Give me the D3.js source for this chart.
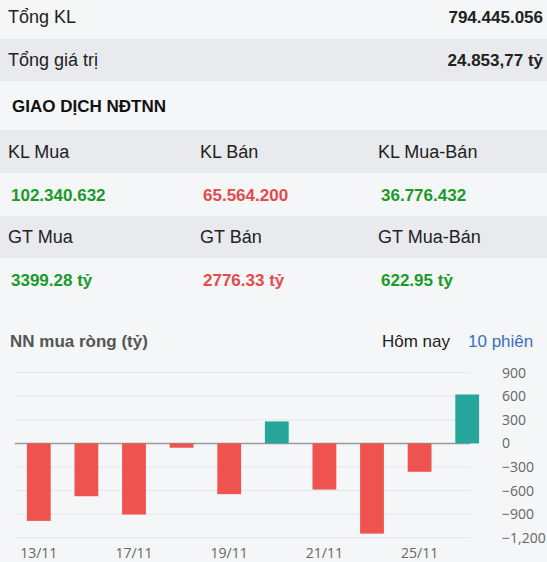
<!DOCTYPE html>
<html><head><meta charset="utf-8">
<script src="https://cdn.jsdelivr.net/npm/d3@7"></script>
<style>body{margin:0;background:#f5f6f8;}svg{display:block;font-family:"Liberation Sans",Arial,sans-serif;}</style>
</head><body><svg id="c" width="547" height="562"></svg>
<script>
const dates = ["13/11","14/11","17/11","18/11","19/11","20/11","21/11","24/11","25/11","26/11"];
const netValues = [-986,-672,-905,-55,-646,280,-587,-1148,-361,622.95];
const yTicks = [900,600,300,0,-300,-600,-900,-1200];
const shownDates = ["13/11","17/11","19/11","21/11","25/11"];

const svg = d3.select("#c");
svg.append("rect").attr("width",547).attr("height",562).attr("fill","#f5f6f8");
svg.append("rect").attr("y",39).attr("width",547).attr("height",42).attr("fill","#e8eaee");
svg.append("text").attr("x",8).attr("y",23).attr("font-size",18).attr("fill","#222").text("Tổng KL");
svg.append("text").attr("x",543).attr("y",23).attr("text-anchor","end").attr("font-size",17).attr("font-weight","bold").attr("fill","#222").text("794.445.056");
svg.append("text").attr("x",8).attr("y",66).attr("font-size",18).attr("fill","#222").text("Tổng giá trị");
svg.append("text").attr("x",543).attr("y",66).attr("text-anchor","end").attr("font-size",17).attr("font-weight","bold").attr("fill","#222").text("24.853,77 tỷ");
svg.append("text").attr("x",12).attr("y",112).attr("font-size",17).attr("font-weight","bold").attr("fill","#111").text("GIAO DỊCH NĐTNN");
svg.append("line").attr("x1",0).attr("x2",547).attr("y1",131).attr("y2",131).attr("stroke","#d5d8dd");
svg.append("rect").attr("y",131).attr("width",547).attr("height",42).attr("fill","#e8eaee");
svg.append("rect").attr("y",216).attr("width",547).attr("height",42).attr("fill","#e8eaee");
const cols=[8,200,378];
const hdr1=["KL Mua","KL Bán","KL Mua-Bán"], hdr2=["GT Mua","GT Bán","GT Mua-Bán"];
const val1=["102.340.632","65.564.200","36.776.432"], val2=["3399.28 tỷ","2776.33 tỷ","622.95 tỷ"];
const vcol=["#1a9a2a","#e24b4b","#1a9a2a"];
hdr1.forEach((t,i)=>svg.append("text").attr("x",cols[i]).attr("y",158).attr("font-size",18).attr("fill","#222").text(t));
hdr2.forEach((t,i)=>svg.append("text").attr("x",cols[i]).attr("y",243).attr("font-size",18).attr("fill","#222").text(t));
val1.forEach((t,i)=>svg.append("text").attr("x",cols[i]+3).attr("y",201).attr("font-size",17).attr("font-weight","bold").attr("fill",vcol[i]).text(t));
val2.forEach((t,i)=>svg.append("text").attr("x",cols[i]+3).attr("y",286).attr("font-size",17).attr("font-weight","bold").attr("fill",vcol[i]).text(t));
svg.append("text").attr("x",10).attr("y",347).attr("font-size",17).attr("font-weight","bold").attr("fill","#555").text("NN mua ròng (tỷ)");
svg.append("text").attr("x",382).attr("y",347).attr("font-size",17).attr("fill","#222").text("Hôm nay");
svg.append("text").attr("x",468).attr("y",347).attr("font-size",17).attr("fill","#3a6fc4").text("10 phiên");

const x = d3.scaleBand().domain(dates).range([15,491]).paddingInner(0.5).paddingOuter(0.25);
const y = d3.scaleLinear().domain([-1200,900]).range([537.7,372.7]);
const g = svg.append("g");
g.selectAll(".grid").data(yTicks).join("line").attr("x1",15).attr("x2",470)
 .attr("y1",d=>y(d)).attr("y2",d=>y(d)).attr("stroke",d=>d===0?"#9a9a9a":"#e3e5e8").attr("stroke-width",d=>d===0?1.5:1);
g.selectAll(".yl").data(yTicks).join("text").attr("x",502).attr("y",d=>y(d)+5).attr("font-family","'Open Sans',sans-serif")
 .attr("font-size",14).attr("fill","#666").text(d=>d3.format(",")(d));
g.selectAll(".bar").data(netValues).join("rect")
 .attr("x",(d,i)=>x(dates[i])).attr("width",x.bandwidth())
 .attr("y",d=>y(Math.max(0,d))).attr("height",d=>Math.abs(y(d)-y(0)))
 .attr("fill",d=>d>=0?"#26a69a":"#ef5350");
g.selectAll(".xl").data(shownDates).join("text").attr("x",d=>x(d)+x.bandwidth()/2).attr("y",558)
 .attr("text-anchor","middle").attr("font-family","'Open Sans',sans-serif").attr("font-size",14).attr("fill","#666").text(d=>d);
</script></body></html>
